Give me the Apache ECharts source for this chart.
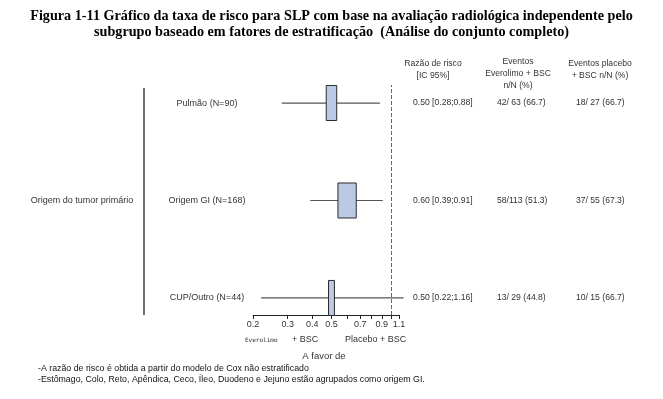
<!DOCTYPE html>
<html>
<head>
<meta charset="utf-8">
<script src="https://cdn.jsdelivr.net/npm/echarts@6/dist/echarts.min.js"></script>
<style>
  html, body { margin: 0; padding: 0; background: #fff; }
  #chart { width: 663px; height: 399px; }
</style>
</head>
<body>
<div id="chart"></div>
<script>
// dados
const subgroups = ['Pulmão (N=90)', 'Origem GI (N=168)', 'CUP/Outro (N=44)'];
const nPatients = [90, 168, 44];
const hazardRatio = [0.50, 0.60, 0.50];
const ciLower = [0.28, 0.39, 0.22];
const ciUpper = [0.88, 0.91, 1.16];
const hrLabels = ['0.50 [0.28;0.88]', '0.60 [0.39;0.91]', '0.50 [0.22;1.16]'];
const everolimoEvents = ['42/ 63 (66.7)', '58/113 (51.3)', '13/ 29 (44.8)'];
const placeboEvents = ['18/ 27 (66.7)', '37/ 55 (67.3)', '10/ 15 (66.7)'];
const tickValues = [0.2, 0.3, 0.4, 0.5, 0.6, 0.7, 0.8, 0.9, 1.0, 1.1];
const tickLabels = [0.2, 0.3, 0.4, 0.5, 0.7, 0.9, 1.1];

const SANS = 'Liberation Sans, Arial, sans-serif';
const TXT = '#333';

const seriesData = subgroups.map((s, i) => [hazardRatio[i], ciLower[i], ciUpper[i], subgroups.length - 1 - i, nPatients[i]]);

function renderItem(params, api) {
  const i = params.dataIndex;
  const y = api.coord([1, api.value(3)])[1];
  const xHr = api.coord([api.value(0), 0])[0];
  const xLo = api.coord([api.value(1), 0])[0];
  const xHi = api.coord([api.value(2), 0])[0];
  const w = 1.5 + api.value(4) * 0.1; // caixa proporcional ao N
  const h = 35;
  const txt = (x, text, align, size) => ({
    type: 'text', x: x, y: y,
    style: { text: text, fill: TXT, font: size + 'px ' + SANS, align: align, verticalAlign: 'middle' }
  });
  return {
    type: 'group',
    children: [
      { type: 'line', shape: { x1: xLo, y1: y, x2: xHi, y2: y }, style: { stroke: '#555', lineWidth: 1.2 } },
      { type: 'rect', shape: { x: xHr - w / 2, y: y - h / 2, width: w, height: h },
        style: { fill: '#b9c9e6', stroke: '#2b2b2b', lineWidth: 1 } },
      txt(207, subgroups[i], 'center', 9),
      txt(413, hrLabels[i], 'left', 8.6),
      txt(497, everolimoEvents[i], 'left', 8.6),
      txt(576, placeboEvents[i], 'left', 8.6)
    ]
  };
}

const chart = echarts.init(document.getElementById('chart'));
chart.setOption({
  animation: false,
  grid: { left: 253, right: 264, top: 85, bottom: 84 },
  xAxis: {
    type: 'log',
    min: 0.2,
    max: 1.1,
    splitLine: { show: false },
    axisLine: { onZero: false, lineStyle: { color: '#222', width: 1 } },
    axisTick: { customValues: tickValues, length: 4, lineStyle: { color: '#222' } },
    axisLabel: {
      customValues: tickLabels,
      formatter: v => Number(v).toFixed(1),
      color: TXT, fontSize: 9, fontFamily: SANS, margin: 5
    }
  },
  yAxis: { type: 'value', min: -0.175, max: 2.185, show: false },
  series: [
    {
      type: 'custom',
      renderItem: renderItem,
      encode: { x: [0, 1, 2], y: 3 },
      data: seriesData
    },
    {
      type: 'line',
      data: [],
      markLine: {
        symbol: 'none',
        silent: true,
        label: { show: false },
        lineStyle: { color: '#666', type: 'dashed', width: 1 },
        data: [{ xAxis: 1 }]
      }
    }
  ],
  graphic: [
    { type: 'text', left: 'center', top: 9, style: { text: 'Figura 1-11 Gráfico da taxa de risco para SLP com base na avaliação radiológica independente pelo', font: 'bold 14.2px Liberation Serif, serif', fill: '#000' } },
    { type: 'text', left: 'center', top: 25, style: { text: 'subgrupo baseado em fatores de estratificação  (Análise do conjunto completo)', font: 'bold 14.2px Liberation Serif, serif', fill: '#000' } },
    { type: 'text', x: 433, y: 70, style: { text: 'Razão de risco\n[IC 95%]', font: '8.6px ' + SANS, fill: TXT, align: 'center', verticalAlign: 'middle', lineHeight: 12 } },
    { type: 'text', x: 518, y: 74, style: { text: 'Eventos\nEverolimo + BSC\nn/N (%)', font: '8.6px ' + SANS, fill: TXT, align: 'center', verticalAlign: 'middle', lineHeight: 12 } },
    { type: 'text', x: 600, y: 70, style: { text: 'Eventos placebo\n+ BSC n/N (%)', font: '8.6px ' + SANS, fill: TXT, align: 'center', verticalAlign: 'middle', lineHeight: 12 } },
    { type: 'line', shape: { x1: 144, y1: 88, x2: 144, y2: 315 }, style: { stroke: '#111', lineWidth: 1.2 } },
    { type: 'text', x: 82, y: 201, style: { text: 'Origem do tumor primário', font: '9px ' + SANS, fill: TXT, align: 'center', verticalAlign: 'middle' } },
    { type: 'text', x: 245, y: 340, style: { text: 'Everolimo', font: '6px DejaVu Sans Mono, monospace', fill: TXT, verticalAlign: 'middle' } },
    { type: 'text', x: 292, y: 340, style: { text: '+ BSC', font: '9px ' + SANS, fill: TXT, verticalAlign: 'middle' } },
    { type: 'text', x: 345, y: 340, style: { text: 'Placebo + BSC', font: '9px ' + SANS, fill: TXT, verticalAlign: 'middle' } },
    { type: 'text', x: 324, y: 356, style: { text: 'A favor de', font: '9.5px ' + SANS, fill: TXT, align: 'center', verticalAlign: 'middle' } },
    { type: 'text', x: 38, y: 369, style: { text: '-A razão de risco é obtida a partir do modelo de Cox não estratificado', font: '8.8px ' + SANS, fill: '#111', verticalAlign: 'middle' } },
    { type: 'text', x: 38, y: 380, style: { text: '-Estômago, Colo, Reto, Apêndica, Ceco, Íleo, Duodeno e Jejuno estão agrupados como origem GI.', font: '8.8px ' + SANS, fill: '#111', verticalAlign: 'middle' } }
  ]
});
</script>
</body>
</html>
